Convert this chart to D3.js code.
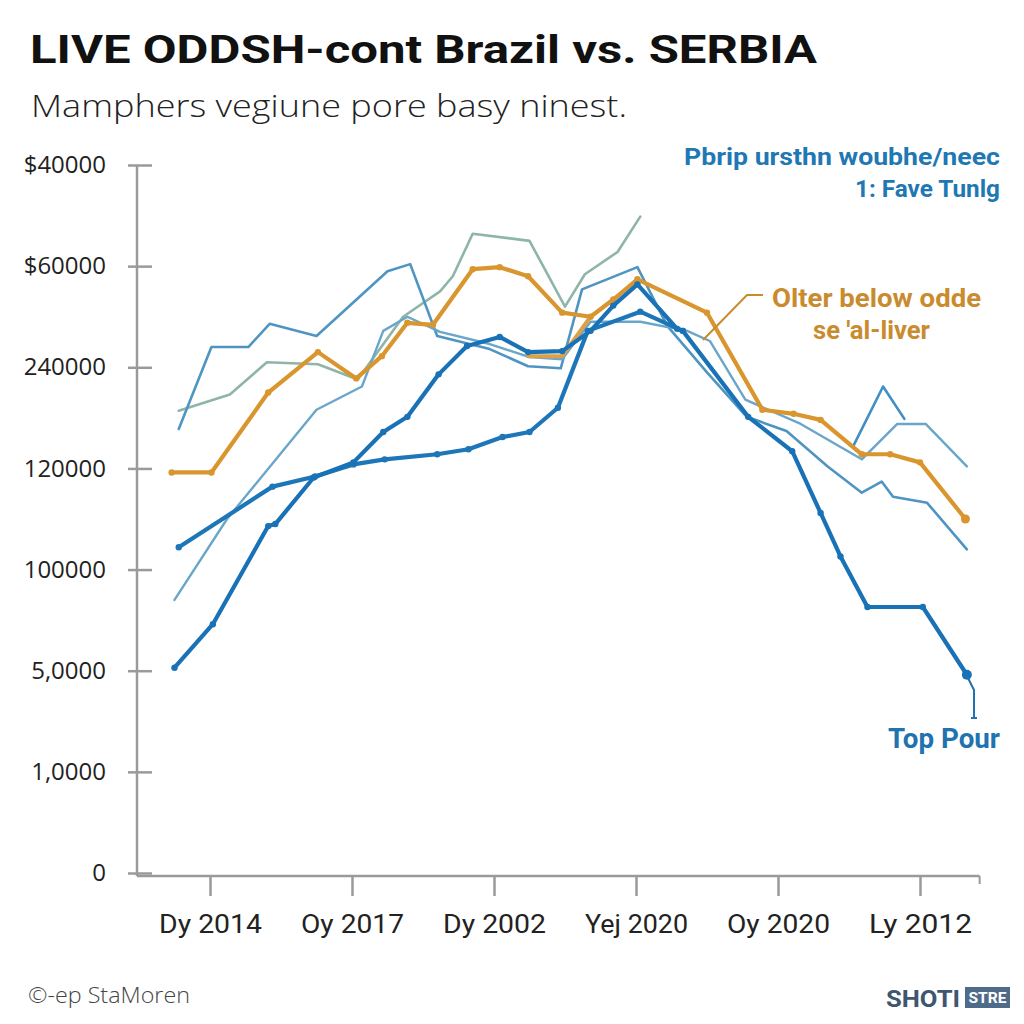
<!DOCTYPE html>
<html><head><meta charset="utf-8">
<script src="https://cdn.jsdelivr.net/npm/d3@7"></script>
<style>html,body{margin:0;padding:0;background:#fff;}svg{display:block;}</style>
</head><body>
<svg id="c" width="1024" height="1024"></svg>
<script>
// ---- data ----
const xLabels = ["Dy 2014","Oy 2017","Dy 2002","Yej 2020","Oy 2020","Ly 2012"];
const yLabels = ["0","1,0000","5,0000","100000","120000","240000","$60000","$40000"];

const orangeMain = [[0.73,3.96],[1.01,3.96],[1.41,4.75],[1.76,5.15],[2.03,4.89],[2.21,5.11],[2.39,5.44],[2.57,5.42],[2.85,5.97],[3.04,5.99],[3.24,5.90],[3.48,5.54],[3.68,5.50],[3.84,5.67],[4.01,5.87],[4.50,5.54],[4.89,4.58],[5.11,4.54],[5.30,4.48],[5.59,4.14],[5.79,4.14],[6.00,4.06],[6.32,3.50]];
const orangeLow = [[3.24,5.11],[3.48,5.11],[3.68,5.50]];
const bluePour = [[0.75,2.03],[1.02,2.46],[1.41,3.43],[1.46,3.45],[1.73,3.91],[2.01,4.06],[2.22,4.36],[2.39,4.51],[2.61,4.93],[2.81,5.21],[3.04,5.30],[3.24,5.15],[3.48,5.16],[3.68,5.36],[3.84,5.61],[4.01,5.82],[4.29,5.38],[4.33,5.36],[4.79,4.51],[5.10,4.17],[5.30,3.56],[5.44,3.13],[5.63,2.63],[6.02,2.63],[6.33,1.96]];
const blueFlat = [[0.78,3.22],[1.44,3.82],[1.74,3.92],[2.01,4.04],[2.23,4.09],[2.60,4.14],[2.82,4.19],[3.06,4.31],[3.25,4.36],[3.45,4.60],[3.66,5.36],[4.03,5.55],[4.33,5.36]];
const steelLine = [[0.78,4.39],[1.01,5.20],[1.27,5.20],[1.42,5.43],[1.75,5.31],[2.25,5.95],[2.41,6.02],[2.60,5.31],[2.97,5.18],[3.24,5.01],[3.47,4.99],[3.62,5.77],[4.01,5.99],[4.22,5.41],[4.50,4.95],[4.78,4.51],[5.06,4.37],[5.35,4.02],[5.59,3.76],[5.73,3.87],[5.81,3.72],[6.05,3.66],[6.33,3.20]];
const sageLine = [[0.78,4.57],[1.14,4.73],[1.40,5.05],[1.76,5.03],[2.04,4.88],[2.36,5.50],[2.62,5.75],[2.71,5.90],[2.85,6.32],[3.25,6.25],[3.50,5.60],[3.64,5.92],[3.87,6.14],[4.03,6.49]];
const lightLine = [[0.75,2.70],[1.12,3.50],[1.75,4.58],[2.07,4.81],[2.22,5.36],[2.39,5.50],[2.62,5.35],[2.97,5.23],[3.25,5.10],[3.48,5.08],[3.68,5.45],[4.03,5.45],[4.36,5.36],[4.52,5.26],[4.77,4.68],[5.16,4.44],[5.59,4.09],[5.84,4.44],[6.04,4.44],[6.33,4.02]];
const spikeLine = [[5.53,4.22],[5.74,4.81],[5.89,4.49]];

// ---- drawing ----
const svg = d3.select("#c");
const x = d3.scaleLinear().domain([1,6]).range([210,920]);
const y = d3.scaleLinear().domain([0,7]).range([873,165]);

// title
svg.append("text").attr("x",30).attr("y",63).attr("font-family","Roboto, 'Open Sans', sans-serif")
  .attr("font-weight",700).attr("font-size",38).attr("fill","#111")
  .attr("textLength",787).attr("lengthAdjust","spacingAndGlyphs")
  .text("LIVE ODDSH-cont Brazil vs. SERBIA");
svg.append("text").attr("x",31).attr("y",117).attr("font-family","'Open Sans', sans-serif")
  .attr("font-weight",300).attr("font-size",31).attr("fill","#222")
  .attr("textLength",596).attr("lengthAdjust","spacingAndGlyphs")
  .text("Mamphers vegiune pore basy ninest.");

// axes
const axisColor = "#9a9a9a";
const gy = svg.append("g").attr("transform","translate(137,0)")
  .call(d3.axisLeft(y).tickValues(d3.range(8)).tickFormat(i=>yLabels[i]).tickSize(9).tickPadding(22));
gy.select(".domain").remove();
gy.selectAll(".tick line").attr("x1",-9).attr("x2",15).attr("stroke",axisColor).attr("stroke-width",2.5);
gy.selectAll(".tick text").attr("font-family","'Open Sans', sans-serif").attr("font-size",24)
  .attr("fill","#222").attr("font-weight",400);
svg.append("line").attr("x1",137).attr("x2",137).attr("y1",y(7)).attr("y2",876)
  .attr("stroke",axisColor).attr("stroke-width",2.5);

const gx = svg.append("g").attr("transform","translate(0,876)")
  .call(d3.axisBottom(x).tickValues(d3.range(1,7)).tickFormat(i=>xLabels[i-1]).tickSize(20));
gx.select(".domain").remove();
gx.selectAll(".tick line").attr("stroke",axisColor).attr("stroke-width",2.5);
gx.selectAll(".tick text").attr("y",57).attr("dy",0).attr("font-family","Roboto, sans-serif")
  .attr("font-size",26).attr("fill","#222").attr("textLength",103).attr("lengthAdjust","spacingAndGlyphs");
svg.append("line").attr("x1",137).attr("x2",x(6.42)).attr("y1",876).attr("y2",876)
  .attr("stroke",axisColor).attr("stroke-width",2.5);
svg.append("line").attr("x1",x(6.42)).attr("x2",x(6.42)).attr("y1",876).attr("y2",884)
  .attr("stroke",axisColor).attr("stroke-width",2);

// lines
const line = d3.line().x(d=>x(d[0])).y(d=>y(d[1]));
const series = [
  {d:sageLine, c:"#8fb5a9", w:2.6, dots:false},
  {d:steelLine, c:"#4f95c2", w:2.6, dots:false},
  {d:lightLine, c:"#6aa6c9", w:2.4, dots:false},
  {d:spikeLine, c:"#3f8fc6", w:2.6, dots:false},
  {d:orangeLow, c:"#dca047", w:4, dots:false},
  {d:orangeMain, c:"#d9962f", w:4.2, dots:true},
  {d:blueFlat, c:"#1d76b8", w:4.2, dots:true},
  {d:bluePour, c:"#1a72b6", w:4.2, dots:true}
];
series.forEach(s=>{
  svg.append("path").datum(s.d).attr("d",line).attr("fill","none").attr("stroke",s.c)
    .attr("stroke-width",s.w).attr("stroke-linejoin","round").attr("stroke-linecap","round");
  if(s.dots){
    svg.append("g").selectAll("circle").data(s.d).join("circle")
      .attr("cx",d=>x(d[0])).attr("cy",d=>y(d[1])).attr("r",3.2).attr("fill",s.c);
  }
});
// end markers
const lastB = bluePour[bluePour.length-1], lastO = orangeMain[orangeMain.length-1];
svg.append("circle").attr("cx",x(lastB[0])).attr("cy",y(lastB[1])).attr("r",5).attr("fill","#1a72b6");
svg.append("circle").attr("cx",x(lastO[0])).attr("cy",y(lastO[1])).attr("r",4.5).attr("fill","#d9962f");

// annotations
svg.append("text").attr("x",1000).attr("y",165).attr("text-anchor","end")
  .attr("font-family","Roboto, sans-serif").attr("font-weight",700).attr("font-size",23).attr("fill","#1f78b4")
  .attr("textLength",316).attr("lengthAdjust","spacingAndGlyphs").text("Pbrip ursthn woubhe/neec");
svg.append("text").attr("x",1000).attr("y",197).attr("text-anchor","end")
  .attr("font-family","Roboto, sans-serif").attr("font-weight",700).attr("font-size",23).attr("fill","#1f78b4")
  .attr("textLength",145).attr("lengthAdjust","spacingAndGlyphs").text("1: Fave Tunlg");

svg.append("text").attr("x",772).attr("y",307)
  .attr("font-family","Roboto, sans-serif").attr("font-weight",700).attr("font-size",25).attr("fill","#c98b2e")
  .attr("textLength",209).attr("lengthAdjust","spacingAndGlyphs").text("Olter below odde");
svg.append("text").attr("x",813).attr("y",339)
  .attr("font-family","Roboto, sans-serif").attr("font-weight",700).attr("font-size",25).attr("fill","#c98b2e")
  .attr("textLength",117).attr("lengthAdjust","spacingAndGlyphs").text("se 'al-liver");
svg.append("path").attr("d","M763,295 L747,295 L703,340").attr("fill","none")
  .attr("stroke","#c98b2e").attr("stroke-width",2);

svg.append("text").attr("x",888).attr("y",748)
  .attr("font-family","Roboto, sans-serif").attr("font-weight",700).attr("font-size",27).attr("fill","#1f73b0")
  .attr("textLength",112).attr("lengthAdjust","spacingAndGlyphs").text("Top Pour");
svg.append("path").attr("d","M967,676 L974,690 L974,718 M971,718 L977,718").attr("fill","none")
  .attr("stroke","#1f73b0").attr("stroke-width",2);

// footer
svg.append("text").attr("x",28).attr("y",1003).attr("font-family","'Open Sans', sans-serif")
  .attr("font-weight",300).attr("font-size",22).attr("fill","#444")
  .attr("textLength",162).attr("lengthAdjust","spacingAndGlyphs").text("©-ep StaMoren");
svg.append("text").attr("x",886).attr("y",1007).attr("font-family","Roboto, sans-serif")
  .attr("font-weight",700).attr("font-size",24).attr("fill","#3e5670")
  .attr("textLength",74).attr("lengthAdjust","spacingAndGlyphs").text("SHOTI");
svg.append("rect").attr("x",965).attr("y",987).attr("width",45).attr("height",21).attr("fill","#4f6b8a");
svg.append("text").attr("x",987.5).attr("y",1003).attr("text-anchor","middle").attr("font-family","Roboto, sans-serif")
  .attr("font-weight",700).attr("font-size",14).attr("fill","#fff")
  .attr("textLength",38).attr("lengthAdjust","spacingAndGlyphs").text("STRE");
</script>
</body></html>
